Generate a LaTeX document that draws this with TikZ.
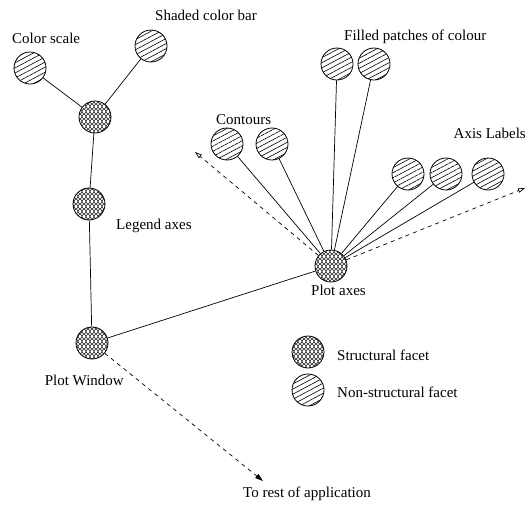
\documentclass[tikz,border=0pt]{standalone}
\usepackage{fontspec}
\setmainfont{Liberation Serif}
\usepackage{tikz}
\usetikzlibrary{patterns,patterns.meta,arrows.meta}

\pgfdeclarepatternformonly{fishnet}{\pgfqpoint{-0.5pt}{-0.5pt}}{\pgfqpoint{8.5pt}{5.5pt}}{\pgfqpoint{8pt}{5pt}}{
  \pgfsetlinewidth{0.45pt}
  \pgfpathmoveto{\pgfqpoint{0pt}{0pt}}
  \pgfpathcurveto{\pgfqpoint{1.6pt}{0pt}}{\pgfqpoint{2.4pt}{5pt}}{\pgfqpoint{4pt}{5pt}}
  \pgfpathcurveto{\pgfqpoint{5.6pt}{5pt}}{\pgfqpoint{6.4pt}{0pt}}{\pgfqpoint{8pt}{0pt}}
  \pgfpathmoveto{\pgfqpoint{0pt}{5pt}}
  \pgfpathcurveto{\pgfqpoint{1.6pt}{5pt}}{\pgfqpoint{2.4pt}{0pt}}{\pgfqpoint{4pt}{0pt}}
  \pgfpathcurveto{\pgfqpoint{5.6pt}{0pt}}{\pgfqpoint{6.4pt}{5pt}}{\pgfqpoint{8pt}{5pt}}
  \pgfusepath{stroke}
}

\tikzset{
  structural/.style={circle,draw,line width=0.8pt,minimum size=32pt,inner sep=0pt,pattern=fishnet},
  facet/.style={circle,draw,line width=0.8pt,minimum size=32pt,inner sep=0pt,
    pattern={Lines[angle=28,distance=4.5pt,line width=0.6pt]}},
  lbl/.style={font=\fontsize{15}{18}\selectfont,inner sep=0pt},
  link/.style={line width=0.7pt},
  away/.style={line width=0.7pt,dash pattern=on 4pt off 4pt,-{Triangle[open,length=7pt,width=4.5pt]}}
}

\begin{document}
\begin{tikzpicture}[x=1pt,y=-1pt]
\useasboundingbox (0,0) rectangle (527,504);

\node[structural] (hub) at (95,117) {};
\node[facet] (scale) at (30,68) {};
\node[facet] (bar) at (151,46) {};
\node[structural] (legend) at (89,204) {};
\node[structural] (window) at (92,343) {};
\node[structural] (axes) at (331,266) {};

\foreach \n/\x/\y in {fill1/337/64, fill2/374/64, cont1/227/144, cont2/272/144,
                      lab1/408/174, lab2/446/174, lab3/488/174}
{
  \node[facet] (\n) at (\x,\y) {};
}

% key
\node[structural] (keys) at (308,352) {};
\node[facet] (keyn) at (308,390) {};

\draw[link] (scale) -- (hub);
\draw[link] (bar) -- (hub);
\draw[link] (hub) -- (legend);
\draw[link] (legend) -- (window);
\draw[link] (window) -- (axes);
\foreach \n in {fill1,fill2,cont1,cont2,lab1,lab2,lab3}
{
  \draw[link] (\n) -- (axes);
}

\coordinate (westend) at (195,152);
\coordinate (eastend) at (525,188);
\coordinate (restend) at (263,481);
\draw[away] (axes) -- (westend);
\draw[away] (axes) -- (eastend);
\draw[link,dash pattern=on 4pt off 4pt,-{Triangle[length=8pt,width=5pt]}] (window) -- (restend);

\node[lbl,anchor=west] (tscale) at (12,38) {Color scale};
\node[lbl,anchor=west] (tbar) at (155,15) {Shaded color bar};
\node[lbl,anchor=west] (tfill) at (344,37) {Filled patches of colour};
\node[lbl,anchor=west] (tcont) at (216,120) {Contours};
\node[lbl,anchor=east] (tlab) at (526,133) {Axis Labels};
\node[lbl,anchor=west] (tlegend) at (116,226) {Legend axes};
\node[lbl,anchor=west] (taxes) at (311,290) {Plot axes};
\node[lbl,anchor=east] (twindow) at (124,380) {Plot Window};
\node[lbl,anchor=west] (trest) at (243,494) {To rest of application};
\node[lbl,anchor=west] (tkeys) at (337,355) {Structural facet};
\node[lbl,anchor=west] (tkeyn) at (337,392) {Non-structural facet};

\end{tikzpicture}
\end{document}
